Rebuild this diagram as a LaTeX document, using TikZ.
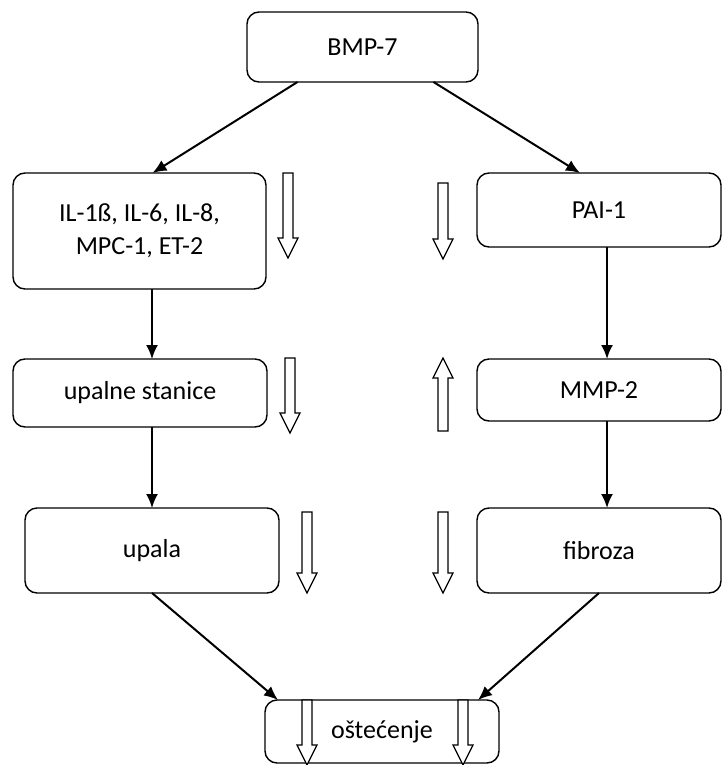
\documentclass[tikz,border=0pt]{standalone}
\usepackage{fontspec}
\setmainfont{Carlito}
\usetikzlibrary{arrows.meta}
\tikzset{
  >={Latex[length=14pt,width=12pt]},
}
\tikzstyle{box}=[draw,line width=1.4pt,rounded corners=12pt,inner sep=0pt,outer sep=0pt,align=center]
\tikzstyle{link}=[line width=2pt,->]
\tikzstyle{hollow}=[line width=1.3pt,fill=white,line join=miter]
\tikzstyle{every node}=[font=\fontsize{26}{33}\selectfont]
% hollow block arrows: x, top, bottom
\newcommand{\hollowdown}[3]{%
  \draw[hollow] (#1-5,#2)--(#1+5,#2)--(#1+5,#3-20)--(#1+10,#3-20)--(#1,#3)--(#1-10,#3-20)--(#1-5,#3-20)--cycle;}
\newcommand{\hollowup}[3]{%
  \draw[hollow] (#1,#2)--(#1+10,#2+20)--(#1+5,#2+20)--(#1+5,#3)--(#1-5,#3)--(#1-5,#2+20)--(#1-10,#2+20)--cycle;}

\begin{document}
\begin{tikzpicture}[x=1pt,y=-1pt]
    \useasboundingbox (0,0) rectangle (723,765);
    \node[box,minimum width=231pt,minimum height=70pt] (bmp) at (362.5,47) {BMP-7};
    \node[box,minimum width=253pt,minimum height=116pt] (il) at (139.5,231) {IL-1ß, IL-6, IL-8,\\MPC-1, ET-2};
    \node[box,minimum width=244pt,minimum height=74pt] (pai) at (599,210) {PAI-1};
    \node[box,minimum width=254pt,minimum height=68pt] (ups) at (140,393) {upalne stanice};
    \node[box,minimum width=244pt,minimum height=62pt] (mmp) at (599,390) {MMP-2};
    \node[box,minimum width=254pt,minimum height=85pt] (upala) at (152,550.5) {upala};
    \node[box,minimum width=244pt,minimum height=85pt] (fib) at (599,550.5) {fibroza};
    \node[box,minimum width=234pt,minimum height=63pt] (ost) at (382,731.5) {oštećenje};

    \draw[link] ([xshift=-65pt]bmp.south)--([xshift=13pt]il.north);
    \draw[link] ([xshift=71pt]bmp.south)--([xshift=-19pt]pai.north);
    \draw[link] (il.south -| upala)--(ups.north -| upala);
    \draw[link] (ups.south -| upala)--(upala.north);
    \draw[link] ([xshift=8pt]pai.south)--([xshift=8pt]mmp.north);
    \draw[link] ([xshift=8pt]mmp.south)--([xshift=8pt]fib.north);
    \draw[link] (upala.south)--([xshift=-104pt]ost.north);
    \draw[link] (fib.south)--([xshift=96pt]ost.north);

    \hollowdown{288}{173}{258}
    \hollowdown{443}{183}{259}
    \hollowdown{290}{358}{433}
    \hollowup{443}{358}{431}
    \hollowdown{307}{512}{593}
    \hollowdown{443}{512}{593}
    \hollowdown{307}{700}{765}
    \hollowdown{463}{700}{765}
\end{tikzpicture}
\end{document}
